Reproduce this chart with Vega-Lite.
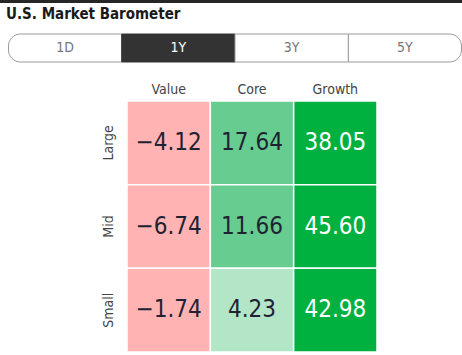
{
  "$schema": "https://vega.github.io/schema/vega-lite/v6.json",
  "padding": 0,
  "background": "white",
  "config": {"view": {"stroke": null}, "font": "Liberation Sans Narrow, DejaVu Sans Condensed, sans-serif"},
  "spacing": 19,
  "vconcat": [
    {
      "spacing": 3,
      "vconcat": [
        {
          "width": 462,
          "height": 3,
          "data": {"values": [{"part": "top bar"}]},
          "mark": {"type": "rect", "color": "#262626"},
          "encoding": {}
        },
        {
          "title": {"text": "U.S. Market Barometer", "anchor": "start", "fontSize": 15, "fontWeight": "bold", "color": "#1a1a1a", "offset": 12, "dx": 6},
          "width": 462,
          "height": 28,
          "data": {"values": [
            {"tab": "1D", "selected": false},
            {"tab": "1Y", "selected": true},
            {"tab": "3Y", "selected": false},
            {"tab": "5Y", "selected": false}
          ]},
          "encoding": {
            "x": {"field": "tab", "type": "nominal", "sort": ["1D", "1Y", "3Y", "5Y"], "scale": {"domain": ["1D", "1Y", "3Y", "5Y"], "range": [8.5, 461.5], "paddingInner": 0, "paddingOuter": 0}, "axis": null}
          },
          "layer": [
            {
              "transform": [{"filter": "datum.tab === '1D'"}],
              "mark": {"type": "rect", "fill": "white", "stroke": "#9a9a9a", "strokeWidth": 1, "cornerRadiusTopLeft": 12, "cornerRadiusBottomLeft": 12},
              "encoding": {}
            },
            {
              "transform": [{"filter": "datum.tab === '5Y'"}],
              "mark": {"type": "rect", "fill": "white", "stroke": "#9a9a9a", "strokeWidth": 1, "cornerRadiusTopRight": 12, "cornerRadiusBottomRight": 12},
              "encoding": {}
            },
            {
              "transform": [{"filter": "datum.tab === '1Y' || datum.tab === '3Y'"}],
              "mark": {"type": "rect", "strokeWidth": 1},
              "encoding": {
                "fill": {"condition": {"test": "datum.selected", "value": "#333333"}, "value": "white"},
                "stroke": {"condition": {"test": "datum.selected", "value": "#333333"}, "value": "#9a9a9a"}
              }
            },
            {
              "mark": {"type": "text", "fontSize": 14, "baseline": "middle"},
              "encoding": {
                "text": {"field": "tab"},
                "color": {"condition": {"test": "datum.selected", "value": "white"}, "value": "#777777"}
              }
            }
          ]
        }
      ]
    },
    {
      "width": 462,
      "height": 251,
      "data": {"values": [
        {"size": "Large", "style": "Value", "ret": -4.12},
        {"size": "Large", "style": "Core", "ret": 17.64},
        {"size": "Large", "style": "Growth", "ret": 38.05},
        {"size": "Mid", "style": "Value", "ret": -6.74},
        {"size": "Mid", "style": "Core", "ret": 11.66},
        {"size": "Mid", "style": "Growth", "ret": 45.60},
        {"size": "Small", "style": "Value", "ret": -1.74},
        {"size": "Small", "style": "Core", "ret": 4.23},
        {"size": "Small", "style": "Growth", "ret": 42.98}
      ]},
      "encoding": {
        "x": {"field": "style", "type": "nominal", "sort": ["Value", "Core", "Growth"],
              "scale": {"range": [127, 377], "paddingInner": 0, "paddingOuter": 0},
              "axis": {"orient": "top", "title": null, "domain": false, "ticks": false, "labelPadding": 5, "labelFontSize": 14, "labelColor": "#444444", "labelAngle": 0}},
        "y": {"field": "size", "type": "nominal", "sort": ["Large", "Mid", "Small"],
              "scale": {"paddingInner": 0, "paddingOuter": 0},
              "axis": {"title": null, "domain": false, "ticks": false, "offset": -127, "labelAngle": -90, "labelPadding": 12, "labelFontSize": 14, "labelColor": "#444444"}}
      },
      "layer": [
        {
          "mark": {"type": "rect", "stroke": "white", "strokeWidth": 1.5},
          "encoding": {
            "fill": {"field": "ret", "type": "quantitative",
                     "scale": {"type": "threshold", "domain": [0, 10, 25], "range": ["#ffb3b3", "#b3e6c6", "#66cc8f", "#00b140"]},
                     "legend": null}
          }
        },
        {
          "mark": {"type": "text", "fontSize": 24, "baseline": "middle"},
          "encoding": {
            "text": {"field": "ret", "type": "quantitative", "format": ".2f"},
            "color": {"condition": {"test": "datum.ret > 25", "value": "white"}, "value": "#1f2233"}
          }
        }
      ]
    }
  ]
}
